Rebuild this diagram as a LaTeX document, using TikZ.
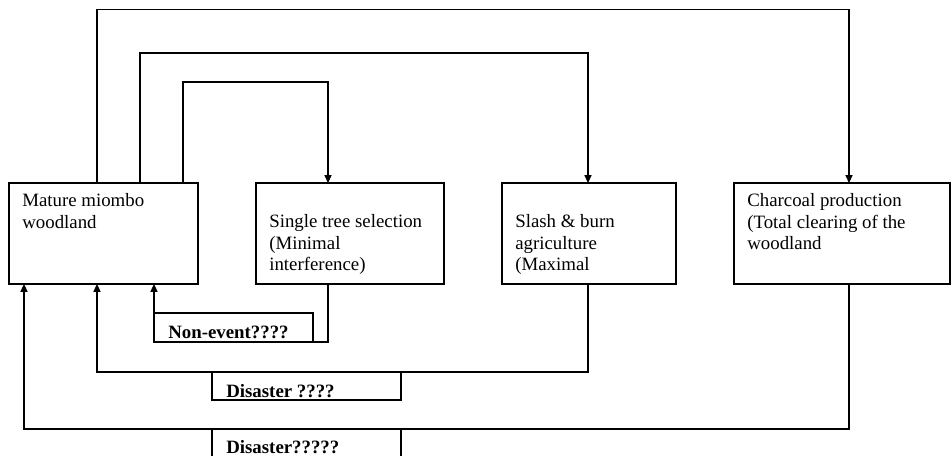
\documentclass[tikz,border=0pt]{standalone}
\usepackage{fontspec}
\setmainfont{Liberation Serif}
\usetikzlibrary{arrows.meta,positioning,calc}

\tikzset{
  block/.style={draw, line width=0.75pt, inner sep=0pt, outer sep=0pt, anchor=north west, minimum height=64.3pt},
  blocktext/.style={anchor=north west, align=left, inner sep=0pt, font=\fontsize{12}{13.8}\selectfont},
  tag/.style={draw, line width=0.75pt, inner sep=0pt, outer sep=0pt, anchor=north west, minimum width=120.4pt},
  tagtext/.style={anchor=base west, inner sep=0pt, font=\fontsize{12}{13.8}\selectfont\bfseries},
  flow/.style={line width=0.75pt, -{Triangle[length=5pt,width=4.5pt]}},
}

\begin{document}
\begin{tikzpicture}[x=0.637pt,y=-0.637pt]

\useasboundingbox (0,0) rectangle (952,456);
\clip (0,0) rectangle (952,456);

% Land-use boxes
\node[block, minimum width=120.4pt] (mature) at (9,183) {};
\node[block, minimum width=119.8pt] (single) at (256,183) {};
\node[block, minimum width=110.8pt] (slash) at (502,183) {};
\node[block, minimum width=137.6pt] (charcoal) at (734,183) {};

\node[blocktext] (maturetxt) at ($(mature.north west)+(13,10)$) {Mature miombo\\woodland};
\node[blocktext] (singletxt) at ($(single.north west)+(13,31)$) {Single tree selection\\(Minimal\\interference)};
\node[blocktext] (slashtxt) at ($(slash.north west)+(13,31)$) {Slash \& burn\\agriculture\\(Maximal};
\node[blocktext] (charcoaltxt) at ($(charcoal.north west)+(13,10)$) {Charcoal production\\(Total clearing of the\\woodland};

% Outcome tags
\node[tag, minimum width=101.3pt, minimum height=18.5pt] (nonevent) at (154,313) {};
\node[tag, minimum height=17.8pt] (disasterA) at (212,372) {};
\node[tag, minimum height=30pt] (disasterB) at (212,429) {};

\node[tagtext] (noneventtxt) at ($(nonevent.north west)+(14,26)$) {Non-event????};
\node[tagtext] (disasterAtxt) at ($(disasterA.north west)+(14,25)$) {Disaster ????};
\node[tagtext] (disasterBtxt) at ($(disasterB.north west)+(14,24)$) {Disaster?????};

% Conversions
\draw[flow] ($(mature.north west)+(88,0)$) -- ++(0,-173.5) -| ($(charcoal.north west)+(115,0)$);
\draw[flow] ($(mature.north west)+(131,0)$) -- ++(0,-130) -| ($(slash.north west)+(86,0)$);
\draw[flow] ($(mature.north west)+(174,0)$) -- ++(0,-101) -| ($(single.north west)+(72,0)$);

% Returns
\draw[flow] ($(single.south west)+(72,0)$) -- ++(0,58) -| ($(mature.south west)+(145,0)$);
\draw[flow] ($(slash.south west)+(86,0)$) -- ++(0,88) -| ($(mature.south west)+(88,0)$);
\draw[flow] ($(charcoal.south west)+(115,0)$) -- ++(0,145) -| ($(mature.south west)+(15,0)$);

\end{tikzpicture}
\end{document}
